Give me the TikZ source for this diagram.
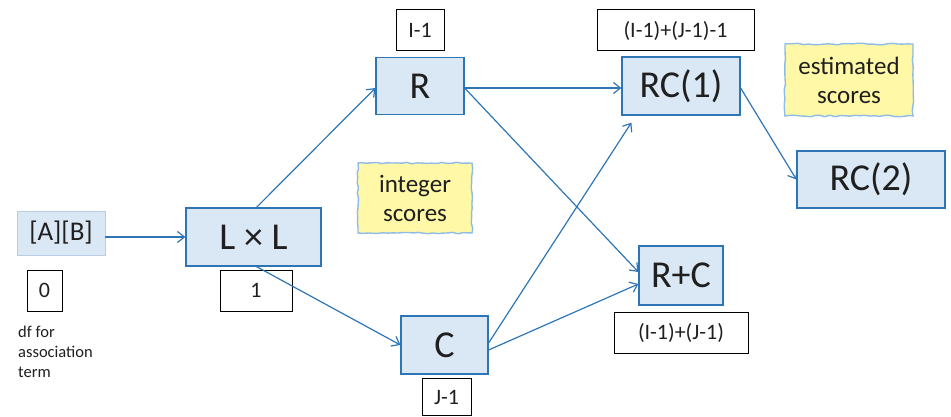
\documentclass[tikz,border=0pt]{standalone}
\usepackage{fontspec}
\setmainfont{Carlito}
\usetikzlibrary{arrows.meta,decorations.pathmorphing,calc}
\definecolor{lineblue}{HTML}{2E75B6}
\definecolor{boxfill}{HTML}{DAE7F4}
\definecolor{abedge}{HTML}{B9CDE2}
\definecolor{sticky}{HTML}{FFF8A6}
\definecolor{stickyedge}{HTML}{8FBCE6}
\definecolor{txt}{HTML}{1F1F1F}
\begin{document}
\begin{tikzpicture}[x=1pt,y=-1pt,
  bigbox/.style={draw=lineblue,fill=boxfill,line width=1.2pt,inner sep=0pt,text=txt,font=\fontsize{38}{44}\selectfont},
  abbox/.style={draw=abedge,fill=boxfill,line width=0.8pt,inner sep=0pt,text=txt,font=\fontsize{27}{32}\selectfont},
  labbox/.style={draw=black,line width=1pt,inner sep=0pt,text=txt,font=\fontsize{22}{26}\selectfont},
  stickynote/.style={fill=sticky,draw=stickyedge,line width=1.4pt,inner sep=0pt,
     decorate,decoration={random steps,segment length=5pt,amplitude=0.8pt}},
  notetext/.style={align=center,text=txt,font=\fontsize{25}{29}\selectfont},
  conn/.style={draw=lineblue,line width=1.2pt,-{Straight Barb[length=7pt,width=11pt]}}
]
\useasboundingbox (0,0) rectangle (951,417);
% main boxes
\node[abbox,minimum width=88pt,minimum height=44pt] (AB) at (61,233) {[A][B]};
\node[bigbox,minimum width=135pt,minimum height=58pt] (LL) at (253.5,237) {L × L};
\node[bigbox,minimum width=88pt,minimum height=57pt] (R) at (420,86) {R};
\node[bigbox,minimum width=87pt,minimum height=58pt] (C) at (444.5,345) {C};
\node[bigbox,minimum width=118pt,minimum height=58pt] (RC1) at (681,86) {RC(1)};
\node[bigbox,minimum width=84pt,minimum height=59pt] (RpC) at (681,275.5) {R+C};
\node[bigbox,minimum width=148pt,minimum height=57pt] (RC2) at (871,179.5) {RC(2)};
% df labels
\node[labbox,minimum width=35pt,minimum height=41pt] (l0) at (44.5,290.5) {0};
\node[labbox,minimum width=72pt,minimum height=41pt] (l1) at (256,290.5) {1};
\node[labbox,minimum width=48pt,minimum height=41pt] (lR) at (420,30.5) {I-1};
\node[labbox,minimum width=157pt,minimum height=41pt] (lRC1) at (675.5,30.5) {(I-1)+(J-1)-1\hspace{16pt}};
\node[labbox,minimum width=49pt,minimum height=37pt] (lC) at (446.5,397) {J-1};
\node[labbox,minimum width=134pt,minimum height=41pt] (lRpC) at (681,332.5) {(I-1)+(J-1)\hspace{14pt}};
% note text
\node[anchor=north west,inner sep=0pt,align=left,text=txt,font=\fontsize{16.5}{20}\selectfont] (df) at (18,326) {df for\\association\\term};
% sticky notes
\path[stickynote] (358,163) rectangle (472,233);
\node[notetext] (ints) at (415,198) {integer\\scores};
\path[stickynote] (785,44) rectangle (913,116);
\node[notetext] (ests) at (849,80) {estimated\\scores};
% connectors
\draw[conn] (LL.west -| AB.east) -- (LL.west);
\draw[conn] ([xshift=3pt]LL.north) -- ([yshift=-2pt]R.west);
\draw[conn] ([xshift=3pt]LL.south) -- (C.west);
\draw[conn] ([yshift=-2pt]R.east) -- ([yshift=-2pt]RC1.west);
\draw[conn] ([yshift=-2pt]R.east) -- ([yshift=3.5pt]RpC.west);
\draw[conn] ([yshift=2pt]C.east) -- ($(RC1.south west)+(10,7)$);
\draw[conn] ([yshift=-5pt]C.east) -- ([yshift=-8.5pt]RpC.west);
\draw[conn] ([yshift=-2pt]RC1.east) -- (RC2.west);
\end{tikzpicture}
\end{document}
